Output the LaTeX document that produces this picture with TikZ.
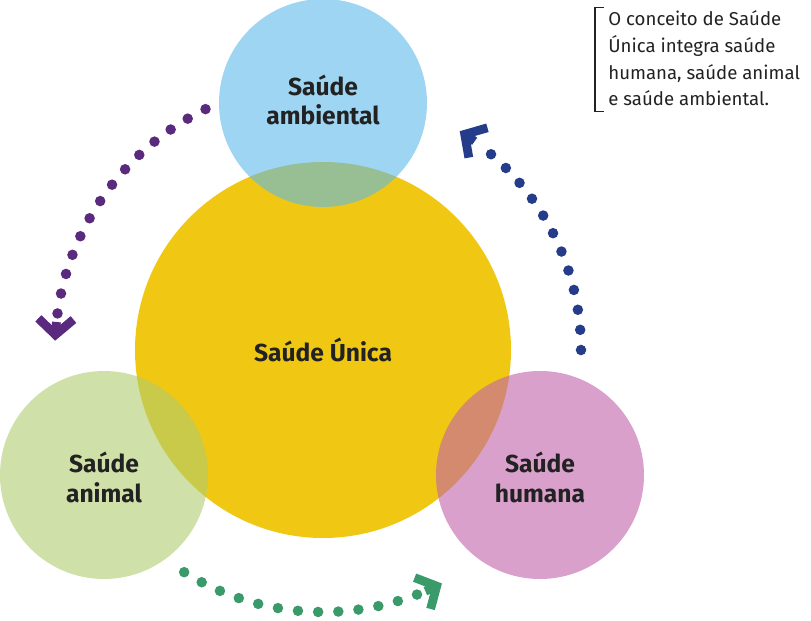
\documentclass[tikz,border=0pt]{standalone}
\usepackage{fontspec}
\setmainfont{Fira Sans}
\usetikzlibrary{positioning}
\usetikzlibrary{arrows.meta}
\definecolor{amarelo}{HTML}{F0C814}
\definecolor{azul}{RGB}{92,185,233}
\definecolor{verde}{RGB}{175,203,110}
\definecolor{rosa}{RGB}{192,97,170}
\definecolor{roxo}{HTML}{5A2A7E}
\definecolor{anil}{HTML}{243C8A}
\definecolor{esmeralda}{HTML}{3A9A6A}
\definecolor{texto}{HTML}{222222}
\tikzset{
  area/.style={circle,minimum size=#1,inner sep=0pt,fill opacity=0.6,text opacity=1},
  rotulo/.style={font=\bfseries\fontsize{14}{17}\selectfont,text=texto,align=center},
  pontos/.style={line width=6pt,line cap=round,dash pattern=on 0pt off 11.5pt},
  ponta/.style={line width=5pt,-{Straight Barb[length=9pt,width=20pt]}}
}
\begin{document}
\begin{tikzpicture}[x=0.02cm,y=0.02cm]
\useasboundingbox (0,0) rectangle (811,620);
% circulo central
\node[area=376*0.02cm,fill=amarelo,fill opacity=1] (unica) at (323,270) {};
\node[area=208*0.02cm,fill=azul] (ambiental) at (323,517) {};
\node[area=208*0.02cm,fill=verde] (animal) at (104,145) {};
\node[area=208*0.02cm,fill=rosa] (humana) at (540,145) {};
\node[rotulo] (tunica) at (unica) {Saúde Única};
\node[rotulo] (tambiental) at ([yshift=0.06cm]ambiental) {Saúde\\ambiental};
\node[rotulo] (tanimal) at ([yshift=-0.04cm]animal) {Saúde\\animal};
\node[rotulo] (thumana) at ([yshift=-0.04cm]humana) {Saúde\\humana};
% setas pontilhadas
\coordinate (c) at (323,270);
\draw[pontos,roxo] ([shift={(116:268)}]c) arc (116:173:268);
\draw[ponta,roxo] ([shift={(174:268)}]c) arc (174:178:268);
\draw[pontos,anil] ([shift={(0:258)}]c) arc (0:53:258);
\draw[ponta,anil] ([shift={(54:258)}]c) arc (54:58:258);
\draw[pontos,esmeralda] ([shift={(238:262)}]c) arc (238:292:262);
\draw[ponta,esmeralda] ([shift={(293:262)}]c) arc (293:297:262);
% nota
\node[anchor=north west,align=left,inner sep=0pt,text=texto,
  font=\fontsize{10.6}{15.3}\selectfont] (nota) at (608,610)
  {O conceito de Saúde\\Única integra saúde\\humana, saúde animal\\e saúde ambiental.};
\draw[texto,line width=0.6pt] ([xshift=-0.08cm,yshift=0.05cm]nota.north west) -- ++(-0.18cm,0) |- ([xshift=-0.08cm,yshift=-0.1cm]nota.south west);
\end{tikzpicture}
\end{document}
